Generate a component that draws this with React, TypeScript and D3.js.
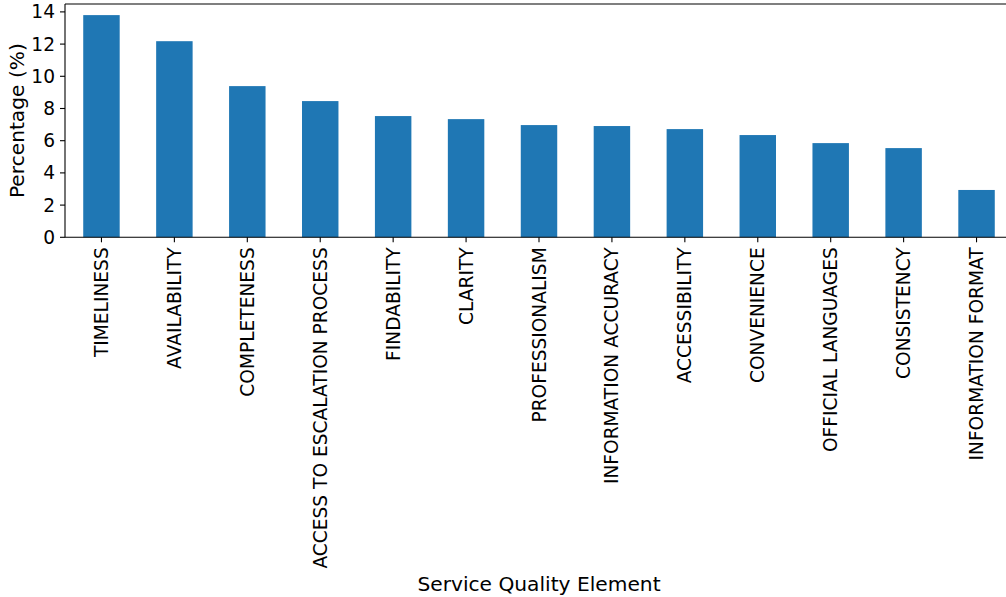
import React from "react";
import * as d3 from "d3";

const categories = [
  "TIMELINESS",
  "AVAILABILITY",
  "COMPLETENESS",
  "ACCESS TO ESCALATION PROCESS",
  "FINDABILITY",
  "CLARITY",
  "PROFESSIONALISM",
  "INFORMATION ACCURACY",
  "ACCESSIBILITY",
  "CONVENIENCE",
  "OFFICIAL LANGUAGES",
  "CONSISTENCY",
  "INFORMATION FORMAT",
];
const percentages = [13.8, 12.18, 9.39, 8.46, 7.53, 7.34, 6.97, 6.91, 6.72, 6.35, 5.85, 5.54, 2.94];
const yTicks = [0, 2, 4, 6, 8, 10, 12, 14];
const xLabel = "Service Quality Element";
const yLabel = "Percentage (%)";

const W = 1006;
const H = 597;
const M = { left: 65, right: 1013, top: 4, bottom: 237.3 };
const FONT = "DejaVu Sans, sans-serif";
const TICK_FS = 18.6;
const LABEL_FS = 20.2;

export default function App() {
  const ymax = d3.max(percentages)! * 1.05;
  const x = d3
    .scaleBand<string>()
    .domain(categories)
    .range([M.left, M.right])
    .paddingInner(0.5)
    .paddingOuter(0.25);
  const y = d3.scaleLinear().domain([0, ymax]).range([M.bottom, M.top]);
  const color = "#1f77b4";

  return (
    <svg
      width={W}
      height={H}
      style={{ position: "absolute", left: 0, top: 0, background: "#fff" }}
      fontFamily={FONT}
    >
      {categories.map((c, i) => (
        <rect
          key={c}
          x={x(c)!}
          y={y(percentages[i])}
          width={x.bandwidth()}
          height={y(0) - y(percentages[i])}
          fill={color}
        />
      ))}
      {/* spines */}
      <line x1={M.left} x2={M.right} y1={M.top} y2={M.top} stroke="#000" strokeWidth={1.1} />
      <line x1={M.left} x2={M.right} y1={M.bottom} y2={M.bottom} stroke="#000" strokeWidth={1.1} />
      <line x1={M.left} x2={M.left} y1={M.top} y2={M.bottom} stroke="#000" strokeWidth={1.1} />
      <line x1={M.right} x2={M.right} y1={M.top} y2={M.bottom} stroke="#000" strokeWidth={1.1} />
      {/* y ticks */}
      {yTicks.map((t) => (
        <g key={t}>
          <line x1={M.left - 5} x2={M.left} y1={y(t)} y2={y(t)} stroke="#000" strokeWidth={1.1} />
          <text
            x={M.left - 10}
            y={y(t)}
            textAnchor="end"
            dominantBaseline="central"
            fontSize={TICK_FS}
            fill="#000"
          >
            {t}
          </text>
        </g>
      ))}
      {/* x ticks */}
      {categories.map((c) => {
        const cx = x(c)! + x.bandwidth() / 2;
        return (
          <g key={c}>
            <line x1={cx} x2={cx} y1={M.bottom} y2={M.bottom + 5} stroke="#000" strokeWidth={1.1} />
            <text
              transform={`translate(${cx},${M.bottom + 10}) rotate(-90)`}
              textAnchor="end"
              dominantBaseline="central"
              fontSize={TICK_FS}
              fill="#000"
            >
              {c}
            </text>
          </g>
        );
      })}
      <text
        transform={`translate(${17},${(M.top + M.bottom) / 2}) rotate(-90)`}
        textAnchor="middle"
        dominantBaseline="central"
        fontSize={LABEL_FS}
        fill="#000"
      >
        {yLabel}
      </text>
      <text
        x={(M.left + M.right) / 2}
        y={591}
        textAnchor="middle"
        fontSize={LABEL_FS}
        fill="#000"
      >
        {xLabel}
      </text>
    </svg>
  );
}
